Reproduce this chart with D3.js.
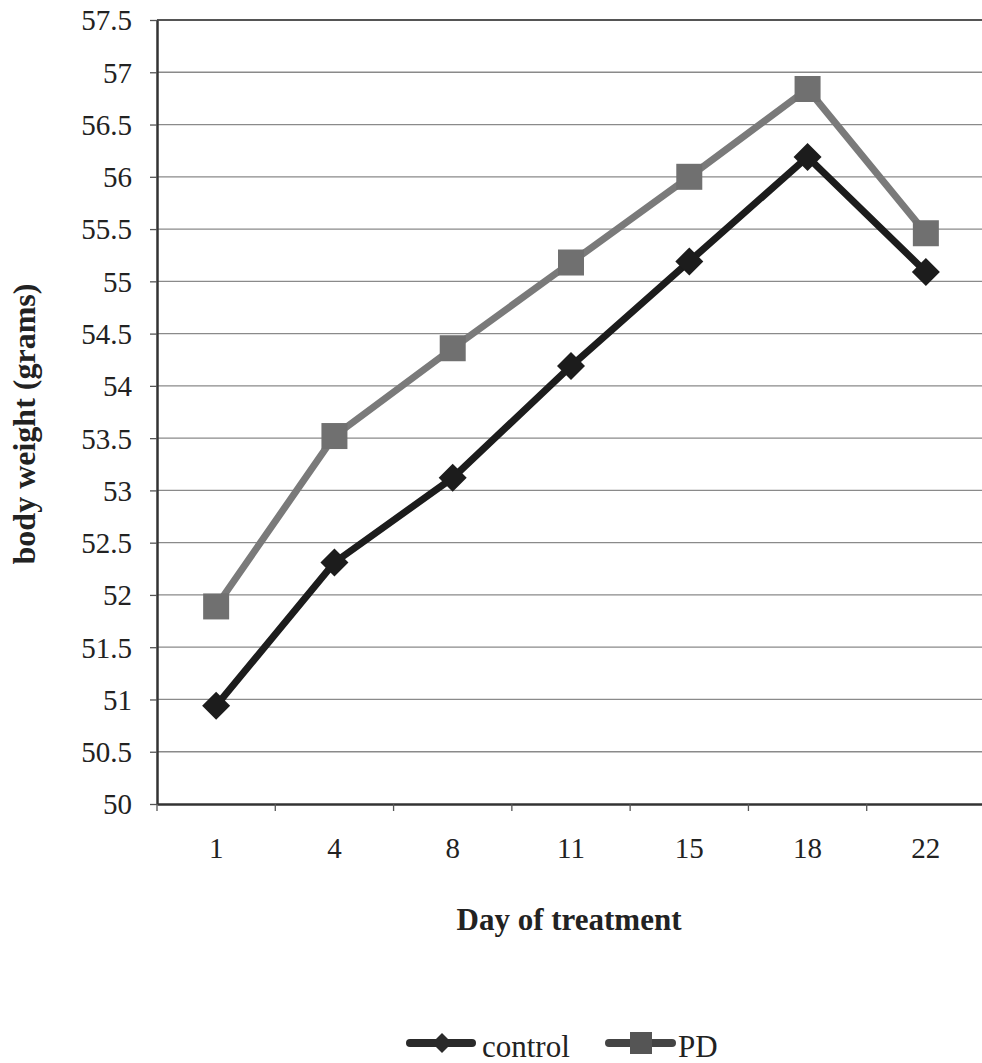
<!DOCTYPE html>
<html>
<head>
<meta charset="utf-8">
<script src="https://cdn.jsdelivr.net/npm/d3@7"></script>
<style>
  body { margin: 0; background: #fff; }
  svg text { font-family: "Times New Roman", Times, "Liberation Serif", serif !important; }
</style>
</head>
<body>
<svg id="chart" width="982" height="1063"></svg>
<script>
const days = ["1", "4", "8", "11", "15", "18", "22"]
const control = [50.94, 52.31, 53.12, 54.19, 55.19, 56.19, 55.09]
const pd = [51.89, 53.52, 54.36, 55.18, 56.00, 56.84, 55.46]
const yTicks = [50, 50.5, 51, 51.5, 52, 52.5, 53, 53.5, 54, 54.5, 55, 55.5, 56, 56.5, 57, 57.5]

const width = 982, height = 1063
const marginL = 157, marginT = 20, plotR = 985, plotB = 804

const svg = d3.select("#chart")

const xScale = d3.scaleBand().domain(days).range([marginL, plotR]).padding(0)
const yScale = d3.scaleLinear().domain([50, 57.5]).range([plotB, marginT])

// gridlines
svg.append("g")
   .selectAll("line")
   .data(yTicks.slice(1, -1))
   .join("line")
   .attr("x1", marginL)
   .attr("x2", plotR)
   .attr("y1", d => yScale(d))
   .attr("y2", d => yScale(d))
   .attr("stroke", "#8a8a8a")
   .attr("stroke-width", 1.3)

// top border
svg.append("line")
   .attr("x1", marginL).attr("x2", plotR)
   .attr("y1", yScale(57.5)).attr("y2", yScale(57.5))
   .attr("stroke", "#555").attr("stroke-width", 2)

const yAxis = d3.axisLeft(yScale).tickValues(yTicks).tickSize(7).tickSizeOuter(0).tickPadding(18).tickFormat(d3.format("~g"))
const yAxisSVG = svg.append("g")
   .attr("transform", `translate(${marginL}, 0)`)
   .call(yAxis)
   .attr("font-family", null)
   .attr("font-size", 29)
yAxisSVG.select(".domain").attr("stroke", "#333").attr("stroke-width", 2.5)
yAxisSVG.selectAll(".tick line").attr("stroke", "#555").attr("stroke-width", 1.3)
yAxisSVG.selectAll(".tick text")
   .attr("fill", "#222")
   .attr("dy", "0.34em")

const xAxis = d3.axisBottom(xScale).tickSize(0).tickSizeOuter(0).tickPadding(33)
const xAxisSVG = svg.append("g")
   .attr("transform", `translate(0, ${plotB})`)
   .call(xAxis)
   .attr("font-family", null)
   .attr("font-size", 29)
xAxisSVG.select(".domain").attr("stroke", "#333").attr("stroke-width", 2.5)
xAxisSVG.selectAll(".tick text").attr("fill", "#222")

// category boundary ticks
svg.append("g")
   .selectAll("line")
   .data(days)
   .join("line")
   .attr("x1", d => xScale(d))
   .attr("x2", d => xScale(d))
   .attr("y1", plotB)
   .attr("y2", plotB + 7)
   .attr("stroke", "#555")
   .attr("stroke-width", 1.3)

const cx = d => xScale(d) + xScale.bandwidth() / 2
const line = d3.line().x((d, i) => cx(days[i])).y(d => yScale(d))

const diamond = (s) => `M0,${-s} L${s},0 L0,${s} L${-s},0 Z`

// PD series
svg.append("path")
   .attr("d", line(pd))
   .attr("fill", "none")
   .attr("stroke", "#7a7a7a")
   .attr("stroke-width", 7)
   .attr("stroke-linejoin", "round")
svg.append("g")
   .selectAll("rect")
   .data(pd)
   .join("rect")
   .attr("x", (d, i) => cx(days[i]) - 13)
   .attr("y", d => yScale(d) - 13)
   .attr("width", 26)
   .attr("height", 26)
   .attr("fill", "#707070")

// control series
svg.append("path")
   .attr("d", line(control))
   .attr("fill", "none")
   .attr("stroke", "#1c1c1c")
   .attr("stroke-width", 7)
   .attr("stroke-linejoin", "round")
svg.append("g")
   .selectAll("path")
   .data(control)
   .join("path")
   .attr("d", diamond(14))
   .attr("transform", (d, i) => `translate(${cx(days[i])}, ${yScale(d)})`)
   .attr("fill", "#1c1c1c")

// axis titles
svg.append("text")
   .text("Day of treatment")
   .attr("x", 569)
   .attr("y", 930)
   .attr("text-anchor", "middle")
   .attr("fill", "#222")
   .style("font-size", "31px")
   .style("font-weight", "bold")
svg.append("text")
   .text("body weight (grams)")
   .attr("transform", "translate(35, 424) rotate(-90)")
   .attr("text-anchor", "middle")
   .attr("fill", "#222")
   .style("font-size", "32px")
   .style("font-weight", "bold")

// legend
const legendY = 1043
const legend = svg.append("g")
legend.append("line")
   .attr("x1", 410).attr("x2", 472).attr("y1", legendY).attr("y2", legendY)
   .attr("stroke", "#2a2a2a").attr("stroke-width", 8).attr("stroke-linecap", "round")
legend.append("path")
   .attr("d", diamond(10))
   .attr("transform", `translate(442, ${legendY})`)
   .attr("fill", "#2a2a2a")
legend.append("text")
   .text("control")
   .attr("x", 482).attr("y", 1057)
   .attr("fill", "#222")
   .style("font-size", "31px")
legend.append("line")
   .attr("x1", 609).attr("x2", 672).attr("y1", legendY).attr("y2", legendY)
   .attr("stroke", "#444").attr("stroke-width", 8).attr("stroke-linecap", "round")
legend.append("rect")
   .attr("x", 630).attr("y", legendY - 11).attr("width", 22).attr("height", 22)
   .attr("fill", "#555")
legend.append("text")
   .text("PD")
   .attr("x", 678).attr("y", 1057)
   .attr("fill", "#222")
   .style("font-size", "31px")
</script>
</body>
</html>
